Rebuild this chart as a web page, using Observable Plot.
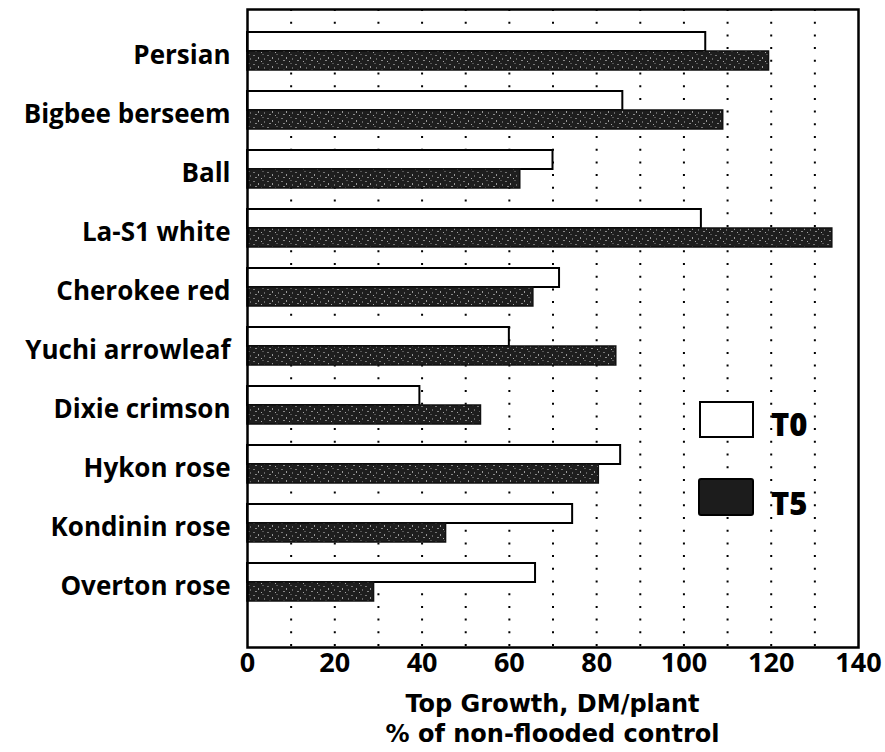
<!DOCTYPE html>
<html>
<head>
<meta charset="utf-8">
<script src="https://cdn.jsdelivr.net/npm/d3@7"></script>
<script src="https://cdn.jsdelivr.net/npm/@observablehq/plot@0.6"></script>
<style>
  html, body { margin: 0; padding: 0; background: #fff; }
  #wrap { position: relative; width: 885px; height: 752px; font-family: "Open Sans", sans-serif; font-weight: 700; color: #000; }
  .title { position: absolute; left: 247px; width: 611px; text-align: center; font-family: "DejaVu Sans", sans-serif; font-size: 24px; line-height: 28px; height: 28px; white-space: nowrap; }
  .lg-box { position: absolute; box-sizing: border-box; border: 2.5px solid #000; }
  .lg-text { position: absolute; font-size: 31px; font-weight: 800; line-height: 1; }
</style>
</head>
<body>
<div id="wrap">
  <div id="chart"></div>
  <div class="title" style="top:690px;">Top Growth, DM/plant</div>
  <div class="title" style="top:720px;">% of non-flooded control</div>
  <div class="lg-box" style="left:699px;top:401px;width:55px;height:37px;background:#fff;"></div>
  <div class="lg-text" style="left:771px;top:409px;">T0</div>
  <div class="lg-box" id="t5box" style="left:698px;top:478px;width:56px;height:38px;border-radius:3px;background:#1c1c1c;"></div>
  <div class="lg-text" style="left:771px;top:488px;">T5</div>
</div>
<script>
const cultivars = ["Persian", "Bigbee berseem", "Ball", "La-S1 white", "Cherokee red",
  "Yuchi arrowleaf", "Dixie crimson", "Hykon rose", "Kondinin rose", "Overton rose"];
const t0Values = [105, 86, 70, 104, 71.5, 60, 39.5, 85.5, 74.5, 66];
const t5Values = [119.5, 109, 62.5, 134, 65.5, 84.5, 53.5, 80.5, 45.5, 29];
const xTicks = [0, 20, 40, 60, 80, 100, 120, 140];
const gridTicks = [10, 20, 30, 40, 50, 60, 70, 80, 90, 100, 110, 120, 130];

const t0Data = cultivars.map((c, i) => ({cultivar: c, value: t0Values[i]}));
const t5Data = cultivars.map((c, i) => ({cultivar: c, value: t5Values[i]}));

const plot = Plot.plot({
  width: 885,
  height: 685,
  marginLeft: 247,
  marginRight: 27,
  marginTop: 9,
  marginBottom: 38,
  style: {fontFamily: "Open Sans, sans-serif", fontWeight: 700, color: "#000", background: "#fff", overflow: "visible"},
  x: {domain: [0, 140], label: null},
  y: {type: "band", domain: cultivars, range: [20.35, 613.35], paddingInner: 0.36, paddingOuter: 0.18, label: null},
  marks: [
    Plot.ruleX(gridTicks, {stroke: "#000", strokeWidth: 2, strokeDasharray: "2 10.7"}),
    Plot.barX(t0Data, {x: "value", y: "cultivar", fill: "#fff", stroke: "#000", strokeWidth: 2, insetBottom: 19}),
    Plot.barX(t5Data, {x: "value", y: "cultivar", fill: "url(#t5pat)", stroke: "#111", strokeWidth: 1.5, insetTop: 19}),
    Plot.frame({stroke: "#000", strokeWidth: 2.5}),
    Plot.axisX({ticks: xTicks, tickSize: 0, tickPadding: 5, fontSize: 27, label: null}),
    Plot.axisY({tickSize: 0, tickPadding: 17, fontSize: 26, dy: 4, label: null})
  ]
});

// speckled dark texture for the T5 bars
const ns = "http://www.w3.org/2000/svg";
const defs = document.createElementNS(ns, "defs");
defs.innerHTML = `
<pattern id="t5pat" patternUnits="userSpaceOnUse" width="14" height="9">
  <rect width="14" height="9" fill="#1e1e1e"/>
  <rect x="1" y="1" width="2" height="1" fill="#777"/>
  <rect x="6" y="3" width="1" height="2" fill="#999"/>
  <rect x="10" y="0" width="2" height="1" fill="#555"/>
  <rect x="3" y="6" width="2" height="1" fill="#888"/>
  <rect x="9" y="7" width="1" height="1" fill="#aaa"/>
  <rect x="12" y="4" width="1" height="2" fill="#666"/>
</pattern>`;
plot.insertBefore(defs, plot.firstChild);
document.getElementById("chart").appendChild(plot);
</script>
</body>
</html>
